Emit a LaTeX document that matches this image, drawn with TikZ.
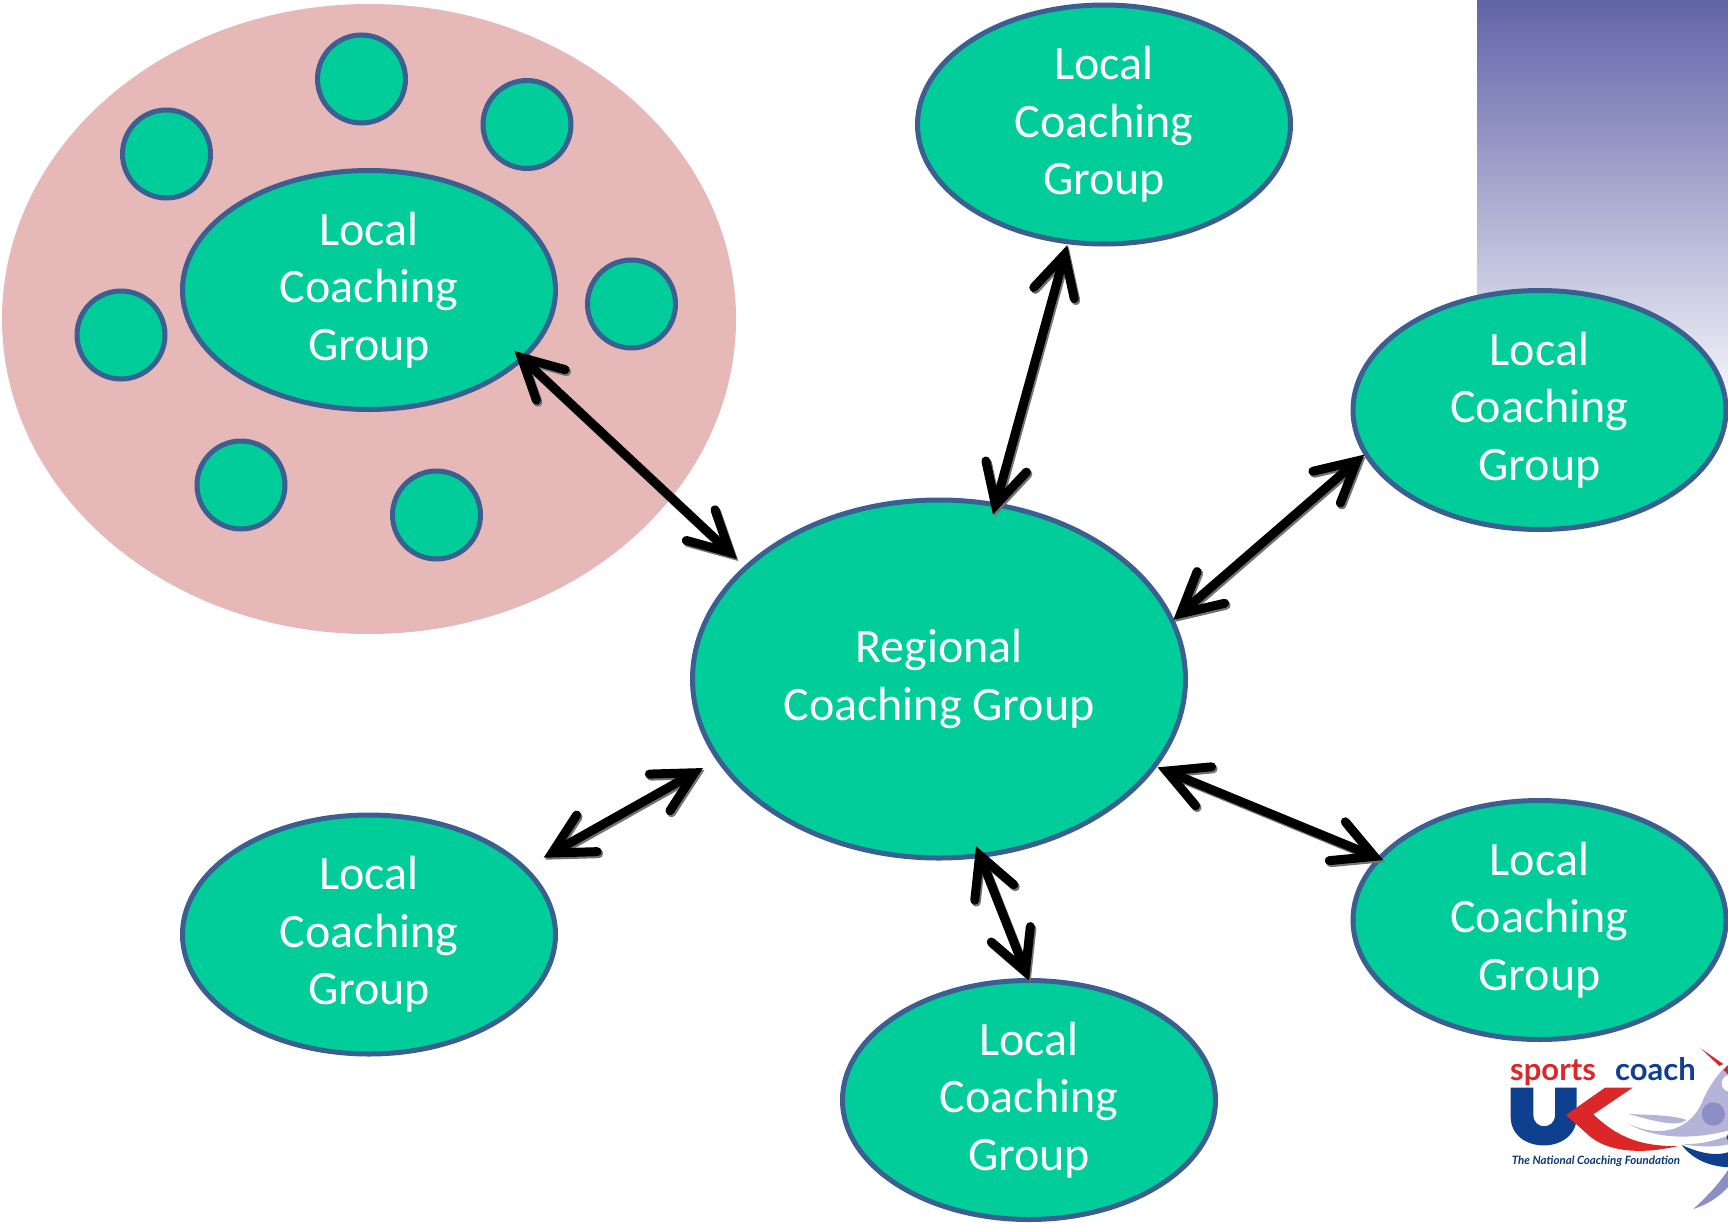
\documentclass[tikz,border=0pt]{standalone}
\usepackage{fontspec}
\setmainfont{Carlito}
\newfontfamily\logofont{Lato}
\usetikzlibrary{shapes.geometric,arrows.meta}
\definecolor{grp}{HTML}{00CD9A}
\definecolor{edge}{HTML}{3B5F90}
\definecolor{pinkish}{HTML}{E6B8B7}
\definecolor{grad}{HTML}{6163A8}
\definecolor{logored}{HTML}{DC2729}
\definecolor{logoblue}{HTML}{0F3F8F}
\definecolor{lav}{HTML}{B4B4D8}
\definecolor{lavd}{HTML}{8E8EC6}
\tikzset{
  grpbase/.style={ellipse,draw=edge,fill=grp,line width=5pt,inner sep=0pt,outer sep=0pt,text=white,align=center,font=\fontsize{48}{57.5}\selectfont},
  localgrp/.style={grpbase,minimum width=373pt,minimum height=239pt},
  reggrp/.style={grpbase,minimum width=493pt,minimum height=358pt},
  member/.style={circle,draw=edge,fill=grp,line width=5pt,inner sep=0pt,outer sep=0pt,minimum size=88pt},
  twohead/.style={line width=9pt,{Straight Barb[length=40pt,width=42pt,line cap=round,line join=miter]}-{Straight Barb[length=40pt,width=42pt,line cap=round,line join=miter]}},
  logotext/.style={inner sep=0pt,anchor=base west}
}
\newcommand{\biarrow}[4]{%
  \draw[twohead,black!55,shorten <=#3pt,shorten >=#4pt,transform canvas={shift={(1.5pt,-2pt)}}] (#1) -- (#2);
  \draw[twohead,black,shorten <=#3pt,shorten >=#4pt] (#1) -- (#2);}
\begin{document}
\begin{tikzpicture}[x=1pt,y=-1pt]
\useasboundingbox (0,0) rectangle (1728,1223);
\shade[top color=grad,bottom color=white,draw=none] (1477,0) rectangle (1728,425);
\fill[pinkish] (369,319) ellipse [x radius=367,y radius=315];
\node[member] (m1) at (361.5,79) {};
\node[member] (m2) at (527,124.5) {};
\node[member] (m3) at (166.5,154) {};
\node[member] (m4) at (631.5,304) {};
\node[member] (m5) at (121,335) {};
\node[member] (m6) at (241,485) {};
\node[member] (m7) at (436.5,515) {};
\node[localgrp] (g1) at (369,290) {Local\\Coaching\\Group};
\node[localgrp] (g2) at (1104,124.5) {Local\\Coaching\\Group};
\node[localgrp] (g3) at (1539.5,410) {Local\\Coaching\\Group};
\node[localgrp] (g4) at (369,934.5) {Local\\Coaching\\Group};
\node[localgrp] (g5) at (1539.5,920) {Local\\Coaching\\Group};
\node[localgrp] (g6) at (1029,1100) {Local\\Coaching\\Group};
\node[reggrp] (r) at (939,679) {Regional\\Coaching Group};
\biarrow{g1.-24.4}{r.150.2}{-10.5}{12.5}
\biarrow{g2.-107}{r.72.2}{3.5}{-10}
\biarrow{g3.194.8}{r.14}{2}{1.5}
\biarrow{g5.159.9}{r.-22}{-4}{3.5}
\biarrow{g6.90}{r.-77}{0}{-10}
\biarrow{g4.23}{r.200.8}{22}{18}
\begin{scope}[shift={(1460,1020)},x=0.3333pt,y=-0.3333pt]
  \fill[lav] (505,282) .. controls (570,285) and (640,285) .. (680,300) .. controls (650,322) and (590,305) .. cycle;
  \fill[lav] (500,308) .. controls (580,350) and (680,345) .. (725,250) .. controls (745,200) and (780,150) .. (810,130) -- (810,330) .. controls (740,350) and (600,370) .. cycle;
  \fill[lav] (665,372) .. controls (720,375) and (770,360) .. (810,345) -- (810,372) .. controls (770,382) and (720,382) .. cycle;
  \fill[lavd] (700,567) .. controls (740,530) and (780,490) .. (810,440) -- (810,495) .. controls (780,530) and (740,555) .. cycle;
  \fill[logoblue] (665,375) .. controls (720,400) and (770,410) .. (810,395) -- (810,442) .. controls (750,440) and (700,420) .. cycle;
  \fill[lavd] (760,282) circle [radius=35];
  \fill[white] (810,190) circle [radius=25];
  \fill[logoblue] (815,352) circle [radius=15];
  \fill[logored] (722,85) -- (790,132) -- (778,138) -- cycle;
  \fill[logored] (810,130) -- (790,150) -- (810,168) -- cycle;
  \fill[logoblue] (152,203) -- (220,203) -- (220,285) .. controls (220,330) and (285,330) .. (285,285) -- (285,203) -- (350,203) -- (350,290) .. controls (350,405) and (152,405) .. (152,290) -- cycle;
  \fill[logored] (435,203) -- (518,203) -- (400,283) .. controls (470,350) and (540,380) .. (655,378) .. controls (540,405) and (440,395) .. (385,345) -- (318,285) -- cycle;
  \node[logotext,text=logored,font=\logofont\bfseries\fontsize{31}{31}\selectfont] (lsports) at (150,180) {sports};
  \node[logotext,text=logoblue,font=\logofont\bfseries\fontsize{31}{31}\selectfont] (lcoach) at (465,180) {coach};
  \node[logotext,text=logoblue!85!black,font=\logofont\bfseries\itshape\fontsize{11.5}{11.5}\selectfont] (lnat) at (155,433) {The National Coaching Foundation};
\end{scope}
\end{tikzpicture}
\end{document}
